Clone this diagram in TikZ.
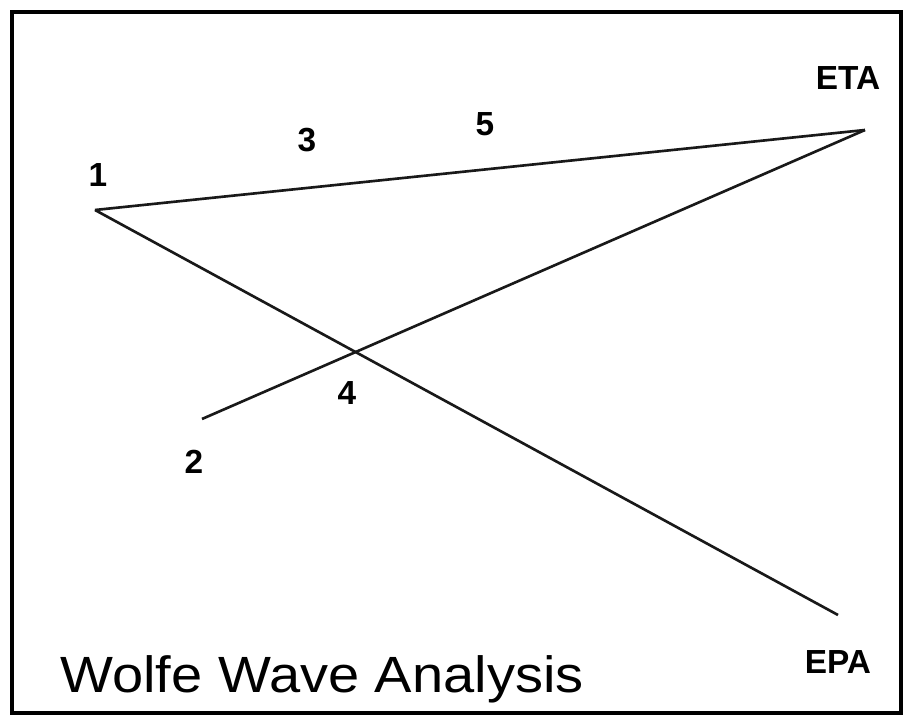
\documentclass[tikz,border=0pt]{standalone}
\usepackage{fontspec}
\setmainfont{Liberation Sans}
\usetikzlibrary{positioning}

\begin{document}
\begin{tikzpicture}[x=0.02cm, y=-0.02cm,
    wave/.style={line width=1.5pt, black!90},
    ptlabel/.style={font=\bfseries\fontsize{19}{19}\selectfont, inner sep=0pt},
  ]
    \useasboundingbox (0,0) rectangle (903,715);
    % Rahmen
    \draw[line width=2pt] (12,12) rectangle (901,713);

    % Wendepunkte
    \coordinate (p1) at (95,210);
    \coordinate (p2) at (202,419);
    \coordinate (eta) at (865,130);
    \coordinate (epa) at (838,615);

    % Linien
    \draw[wave] (p1) -- (eta);
    \draw[wave] (p1) -- (epa);
    \draw[wave] (p2) -- (eta);

    % Beschriftung
    \node[ptlabel] (l1) at (98,175) {1};
    \node[ptlabel] (l2) at (194,462) {2};
    \node[ptlabel] (l3) at (307,140) {3};
    \node[ptlabel] (l4) at (347,393) {4};
    \node[ptlabel] (l5) at (485,124) {5};
    \node[ptlabel] (leta) at (848,78) {ETA};
    \node[ptlabel] (lepa) at (838,662) {EPA};

    % Titel
    \node[anchor=base west, inner sep=0pt, xscale=1.1, transform shape, font=\fontsize{29}{29}\selectfont] (title) at (60,693) {Wolfe Wave Analysis};
\end{tikzpicture}
\end{document}
